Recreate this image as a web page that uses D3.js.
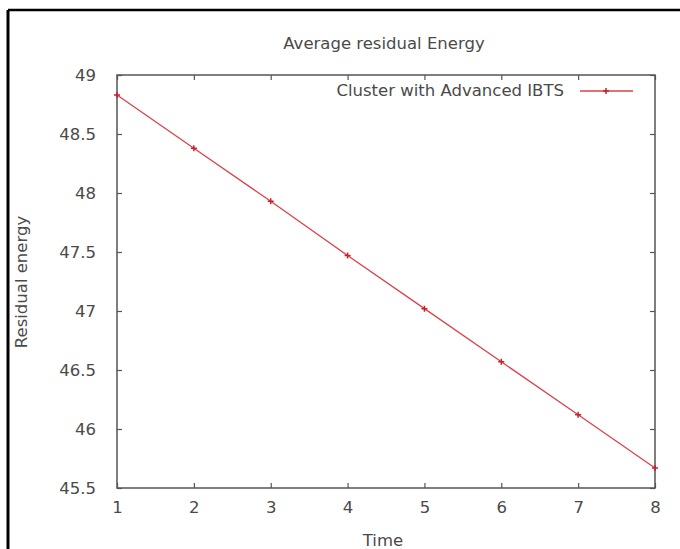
<!DOCTYPE html>
<meta charset="utf-8">
<script src="https://d3js.org/d3.v7.min.js"></script>
<style>
body { margin: 0; background: #fff; }
svg text { font-family: "DejaVu Sans", sans-serif; fill: #4a4a4a; }
</style>
<svg id="chart" width="680" height="549"></svg>
<script>

var times = [1, 2, 3, 4, 5, 6, 7, 8];
var energy = [48.83, 48.38, 47.93, 47.47, 47.02, 46.57, 46.12, 45.67];
var yTicks = [45.5, 46, 46.5, 47, 47.5, 48, 48.5, 49];
var seriesName = "Cluster with Advanced IBTS";

var data = times.map(function(t, i) { return {x: t, y: energy[i]}; });

var plotL = 117, plotR = 655, plotT = 75, plotB = 488;
var red = "#d9434b";
var fs = 16.5;

var svg = d3.select("#chart");

// outer frame (only top and left are visible)
svg.append("line").attr("x1", 8).attr("y1", 10).attr("x2", 680).attr("y2", 10)
  .attr("stroke", "#000").attr("stroke-width", 2.5);
svg.append("line").attr("x1", 8).attr("y1", 10).attr("x2", 8).attr("y2", 549)
  .attr("stroke", "#000").attr("stroke-width", 3);

var x = d3.scaleLinear().domain([1, 8]).range([plotL, plotR]);
var y = d3.scaleLinear().domain([45.5, 49]).range([plotB, plotT]);

function fmt(d) { return String(d); }

// axes, ticks pointing inward, mirrored on top/right
var gb = svg.append("g").attr("transform", "translate(0," + plotB + ")")
  .call(d3.axisBottom(x).tickValues(times).tickSize(-5).tickPadding(13).tickFormat(fmt));
var gt = svg.append("g").attr("transform", "translate(0," + plotT + ")")
  .call(d3.axisTop(x).tickValues(times).tickSize(-5).tickFormat(""));
var gl = svg.append("g").attr("transform", "translate(" + plotL + ",0)")
  .call(d3.axisLeft(y).tickValues(yTicks).tickSize(-5).tickPadding(21).tickFormat(fmt));
var gr = svg.append("g").attr("transform", "translate(" + plotR + ",0)")
  .call(d3.axisRight(y).tickValues(yTicks).tickSize(-5).tickFormat(""));

[gb, gt, gl, gr].forEach(function(g) {
  g.select(".domain").remove();
  g.selectAll(".tick line").attr("stroke", "#555").attr("stroke-width", 1.2);
  g.selectAll("text").attr("font-size", fs).attr("fill", "#4a4a4a")
    .attr("font-family", "DejaVu Sans, sans-serif");
});

svg.append("rect").attr("x", plotL).attr("y", plotT)
  .attr("width", plotR - plotL).attr("height", plotB - plotT)
  .attr("fill", "none").attr("stroke", "#555").attr("stroke-width", 1.5);

// series
var line = d3.line().x(function(d) { return x(d.x); }).y(function(d) { return y(d.y); });
svg.append("path").datum(data).attr("d", line)
  .attr("fill", "none").attr("stroke", red).attr("stroke-width", 1.3);

function cross(sel, cx, cy) {
  sel.append("path")
    .attr("d", "M" + (cx - 3) + "," + cy + "H" + (cx + 3) + "M" + cx + "," + (cy - 3) + "V" + (cy + 3))
    .attr("stroke", "#c8202c").attr("stroke-width", 1.5);
}
var pts = svg.append("g");
data.forEach(function(d) { cross(pts, x(d.x), y(d.y)); });

// title and labels
svg.append("text").attr("x", 384).attr("y", 49).attr("text-anchor", "middle")
  .attr("font-size", fs).text("Average residual Energy");
svg.append("text").attr("x", 383).attr("y", 546).attr("text-anchor", "middle")
  .attr("font-size", fs).text("Time");
svg.append("text").attr("transform", "translate(27,282) rotate(-90)")
  .attr("text-anchor", "middle").attr("font-size", fs).text("Residual energy");

// legend
svg.append("text").attr("x", 564).attr("y", 96).attr("text-anchor", "end")
  .attr("font-size", fs).text(seriesName);
svg.append("line").attr("x1", 580).attr("x2", 633).attr("y1", 91).attr("y2", 91)
  .attr("stroke", red).attr("stroke-width", 1.3);
cross(svg, 606, 91);

</script>
